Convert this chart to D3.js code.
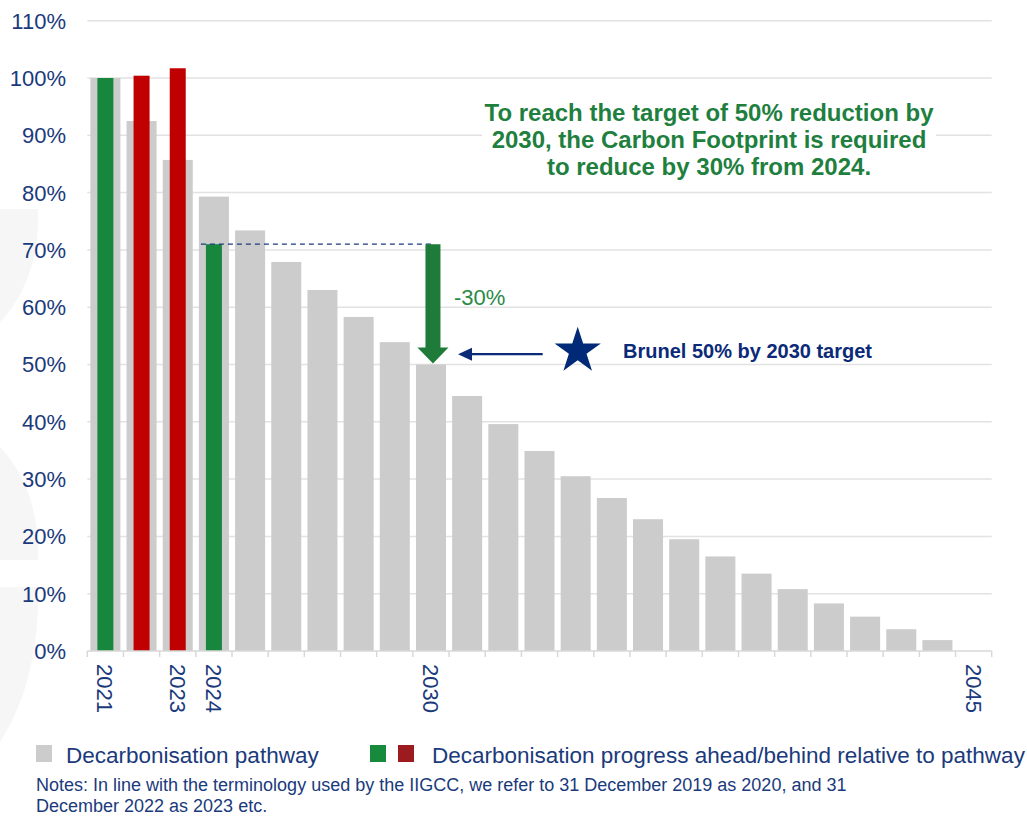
<!DOCTYPE html>
<html><head><meta charset="utf-8">
<script src="https://cdn.jsdelivr.net/npm/d3@7"></script>
<style>body{margin:0;background:#fff}svg{display:block}</style>
</head><body>
<svg id="c" width="1027" height="817"></svg>
<script>
const years = d3.range(2021, 2046).map(String);
const pathway = [100,92.5,85.7,79.3,73.4,67.9,63.0,58.3,53.9,50.0,44.5,39.6,34.9,30.5,26.7,23.0,19.5,16.5,13.5,10.8,8.3,6.0,3.8,1.9,0];
const progressYears = ["2021","2022","2023","2024"];
const progress = [100,100.4,101.7,71.0];
const progressStatus = ["ahead","behind","behind","ahead"];
const yTicks = [0,10,20,30,40,50,60,70,80,90,100,110];
const xLabels = ["2021","2023","2024","2030","2045"];
const titleLines = ["To reach the target of 50% reduction by","2030, the Carbon Footprint is required","to reduce by 30% from 2024."];
const notes = ["Notes: In line with the terminology used by the IIGCC, we refer to 31 December 2019 as 2020, and 31","December 2022 as 2023 etc."];

const navy = "#1a3a7c", grey = "#cccccc", green = "#16873d", red = "#c00000";
const ff = "Liberation Sans, Arial, sans-serif";
const svg = d3.select("#c");

// faint decorative background shapes
const bg = svg.append("g").attr("fill","#f6f6f6");
bg.append("path").attr("d","M0,209 L38,209 Q40,280 0,322 Z");
bg.append("path").attr("d","M0,447 Q40,490 38,560 L0,560 Z");
bg.append("path").attr("d","M0,587 L38,587 Q40,680 0,742 Z");

const x = d3.scaleBand().domain(years).range([87.3, 991.7]).paddingInner(0.17).paddingOuter(0.085);
const y = d3.scaleLinear().domain([0, 110]).range([651, 20.7]);

// gridlines
svg.append("g").selectAll("line").data(yTicks.filter(d=>d>0)).join("line")
  .attr("x1", 87.3).attr("x2", 991.7).attr("y1", d=>y(d)).attr("y2", d=>y(d))
  .attr("stroke", "#e2e2e2").attr("stroke-width", 1.5);

// y axis labels
svg.append("g").selectAll("text").data(yTicks).join("text")
  .attr("x", 66).attr("y", d=>y(d)).attr("dy","0.36em").attr("text-anchor","end")
  .attr("font-family",ff).attr("font-size",22).attr("fill",navy)
  .text(d=>d+"%");

// pathway bars
svg.append("g").selectAll("rect").data(years).join("rect")
  .attr("x", d=>x(d)).attr("width", x.bandwidth())
  .attr("y", (d,i)=>y(pathway[i])).attr("height", (d,i)=>y(0)-y(pathway[i]))
  .attr("fill", grey);

// progress bars
const ow = 16;
svg.append("g").selectAll("rect").data(progressYears).join("rect")
  .attr("x", d=>x(d)+x.bandwidth()/2-ow/2).attr("width", ow)
  .attr("y", (d,i)=>y(progress[i])).attr("height", (d,i)=>y(0)-y(progress[i]))
  .attr("fill", (d,i)=>progressStatus[i]==="ahead"?green:red);

// bottom axis
const xa = svg.append("g").attr("transform","translate(0,651)");
xa.append("line").attr("x1",87.3).attr("x2",991.7).attr("stroke","#d9d9d9").attr("stroke-width",1.5);
const bounds = years.map(d=>x(d)-x.step()*x.paddingInner()/2).concat([991.7]);
xa.selectAll("line.t").data(bounds).join("line").attr("class","t")
  .attr("x1",d=>d).attr("x2",d=>d).attr("y1",0).attr("y2",6).attr("stroke","#d9d9d9").attr("stroke-width",1.5);
xa.selectAll("text").data(xLabels).join("text")
  .attr("transform", d=>`translate(${x(d)+x.bandwidth()/2},13) rotate(90)`)
  .attr("dy","0.36em").attr("text-anchor","start")
  .attr("font-family",ff).attr("font-size",22).attr("fill",navy)
  .text(d=>d);

// dashed line from 2024 to 2030
const x24 = x("2024"), cx30 = x("2030")+x.bandwidth()/2 + 2;
svg.append("line").attr("x1", x24+2).attr("x2", cx30).attr("y1", y(progress[3])).attr("y2", y(progress[3]))
  .attr("stroke", navy).attr("stroke-width",1.3).attr("stroke-dasharray","5,4");

// green arrow down
const ay0 = y(progress[3]), ay1 = y(50)-1;
svg.append("path").attr("d", `M${cx30-7.5},${ay0} L${cx30+7.5},${ay0} L${cx30+7.5},${ay1-16} L${cx30+15.5},${ay1-16} L${cx30},${ay1} L${cx30-15.5},${ay1-16} L${cx30-7.5},${ay1-16} Z`)
  .attr("fill","#1e7b3a");
svg.append("text").attr("x", cx30+21).attr("y", y(60.4)).attr("font-family",ff)
  .attr("font-size",22).attr("fill","#2a8a48").text("-30%");

// navy arrow pointing left
const ny = y(51.8);
svg.append("line").attr("x1",542.7).attr("x2",468).attr("y1",ny).attr("y2",ny).attr("stroke","#0b2a78").attr("stroke-width",2.2);
svg.append("path").attr("d",`M458,${ny} L472,${ny-6.5} L472,${ny+6.5} Z`).attr("fill","#0b2a78");

// star
const R = 24.3, r = R*0.382, scx = 577.7, scy = 326.7 + R;
const pts = d3.range(10).map(i=>{const a = -Math.PI/2 + i*Math.PI/5; const rr = i%2?r:R; return [scx+rr*Math.cos(a), scy+rr*Math.sin(a)];});
svg.append("polygon").attr("points", pts.map(p=>p.join(",")).join(" ")).attr("fill","#002a78");
svg.append("text").attr("x",623).attr("y",358).attr("font-family",ff)
  .attr("font-size",20).attr("font-weight","bold").attr("fill","#0b2a78").text("Brunel 50% by 2030 target");

// annotation box
svg.append("rect").attr("x",482).attr("y",96).attr("width",454).attr("height",90).attr("fill","#fff");
svg.append("g").selectAll("text").data(titleLines).join("text")
  .attr("x",709).attr("y",(d,i)=>120.5+i*27.3).attr("text-anchor","middle")
  .attr("font-family",ff).attr("font-size",24).attr("font-weight","bold")
  .attr("fill","#1f7f3f").text(d=>d);

// legend
const lg = svg.append("g");
lg.append("rect").attr("x",36).attr("y",745).attr("width",16).attr("height",17).attr("fill",grey);
lg.append("text").attr("x",66).attr("y",763).attr("font-family",ff).attr("font-size",22.5).attr("fill",navy).text("Decarbonisation pathway");
lg.append("rect").attr("x",370).attr("y",745).attr("width",16).attr("height",17).attr("fill","#178a3c");
lg.append("rect").attr("x",398).attr("y",745).attr("width",16).attr("height",17).attr("fill","#9b1b1f");
lg.append("text").attr("x",432).attr("y",763).attr("font-family",ff).attr("font-size",22.5).attr("fill",navy).text("Decarbonisation progress ahead/behind relative to pathway");

svg.append("g").selectAll("text").data(notes).join("text")
  .attr("x",36).attr("y",(d,i)=>790.5+i*21).attr("font-family",ff).attr("font-size",18).attr("fill",navy).text(d=>d);
</script>
</body></html>
